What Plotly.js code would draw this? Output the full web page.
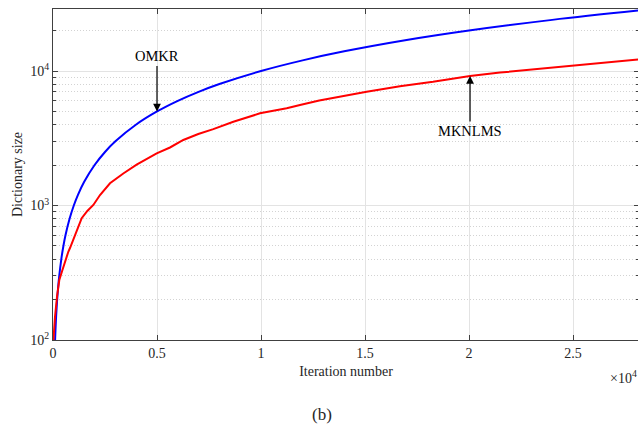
<!DOCTYPE html>
<html>
<head>
<meta charset="utf-8">
<script src="https://cdn.plot.ly/plotly-3.0.1.min.js"></script>
<style>
html,body{margin:0;padding:0;overflow:hidden;background:#fff;}
#chart{width:640px;height:428px;}
</style>
</head>
<body>
<div id="chart"></div>
<script>
// OMKR (blue): dictionary size
const omkrX = [100, 120, 150, 200, 250, 300, 400, 500, 600, 800, 1000, 1200, 1500, 2000, 2500, 3000, 4000, 5000, 6000, 7000, 8000, 10000, 12000, 14000, 17000, 20000, 24000, 28200];
const omkrY = [100, 120, 150, 200, 250, 300, 400, 500, 600, 800, 1000, 1200, 1500, 2000, 2500, 3000, 4000, 5000, 6000, 7000, 8000, 10000, 12000, 14000, 17000, 20000, 24000, 28200];
// MKNLMS (red)
const mknX = [0, 30, 96, 200, 303, 450, 600, 736, 817, 1000, 1200, 1380, 1650, 1940, 2260, 2740, 3380, 4020, 4985, 5625, 6265, 6985, 7707, 8670, 9950, 11235, 11875, 12800, 15080, 16680, 18270, 20050, 21490, 23000, 25015, 28200];
const mknY = [90, 110, 149, 215, 279, 330, 395, 453, 483, 570, 690, 804, 910, 1009, 1197, 1463, 1730, 2010, 2445, 2700, 3070, 3400, 3700, 4197, 4845, 5280, 5590, 6030, 7010, 7700, 8310, 9180, 9730, 10250, 10900, 12200];

const xTickVals = [0, 5000, 10000, 15000, 20000, 25000];
const xTickText = ['0', '0.5', '1', '1.5', '2', '2.5'];
const yTickVals = [100, 1000, 10000];
const yTickText = ['10<sup>2</sup>', '10<sup>3</sup>', '10<sup>4</sup>'];
const yMinorVals = [200, 300, 400, 500, 600, 700, 800, 900, 2000, 3000, 4000, 5000, 6000, 7000, 8000, 9000, 20000];

const serif = '"Liberation Serif", "Times New Roman", serif';
const axisCol = '#404040';
const txtCol = '#262626';

const traces = [
  {x: omkrX, y: omkrY, type: 'scatter', mode: 'lines', line: {color: '#0000ff', width: 2, shape: 'spline'}, name: 'OMKR', hoverinfo: 'skip'},
  {x: mknX, y: mknY, type: 'scatter', mode: 'lines', line: {color: '#ff0000', width: 2}, name: 'MKNLMS', hoverinfo: 'skip'}
];

const W = 640, H = 428, ML = 53, MR = 1, MT = 9, MB = 88;
const plotW = W - ML - MR, plotH = H - MT - MB;
function px2paperX(px) { return (px - ML) / plotW; }
function px2paperY(py) { return (H - MB - py) / plotH; }

const layout = {
  width: W, height: H,
  margin: {l: ML, r: MR, t: MT, b: MB},
  paper_bgcolor: '#fff', plot_bgcolor: '#fff',
  showlegend: false,
  font: {family: serif, color: txtCol, size: 14},
  xaxis: {
    range: [0, 28173],
    tickmode: 'array', tickvals: xTickVals, ticktext: xTickText,
    ticks: 'inside', ticklen: 5, tickcolor: axisCol,
    showline: true, linecolor: axisCol, linewidth: 1, mirror: 'ticks',
    showgrid: true, gridcolor: '#e3e3e3', gridwidth: 1,
    zeroline: false,
    tickfont: {family: serif, size: 14, color: txtCol},
    title: {text: 'Iteration number', font: {family: serif, size: 14, color: txtCol}, standoff: 6}
  },
  yaxis: {
    type: 'log',
    range: [2, 4.461],
    tickmode: 'array', tickvals: yTickVals, ticktext: yTickText,
    ticks: 'inside', ticklen: 5, tickcolor: axisCol,
    showline: true, linecolor: axisCol, linewidth: 1, mirror: 'ticks',
    showgrid: true, gridcolor: '#e3e3e3', gridwidth: 1,
    zeroline: false,
    minor: {tickmode: 'array', tickvals: yMinorVals, ticks: 'inside', ticklen: 3, tickcolor: axisCol,
            showgrid: true, gridcolor: '#d3d3d3', griddash: '1px,2px', gridwidth: 1},
    tickfont: {family: serif, size: 14, color: txtCol},
    title: {text: 'Dictionary size', font: {family: serif, size: 14, color: txtCol}, standoff: 4}
  },
  annotations: [
    {x: 5000, y: Math.log10(5000), xref: 'x', yref: 'y', text: 'OMKR', showarrow: true,
     ax: 0, ay: -55, arrowhead: 2, arrowsize: 1.3, arrowwidth: 1.2, arrowcolor: '#000',
     font: {family: serif, size: 14.5, color: '#000'}},
    {x: 20050, y: Math.log10(9180), xref: 'x', yref: 'y', text: 'MKNLMS', showarrow: true,
     ax: 0, ay: 55, arrowhead: 2, arrowsize: 1.3, arrowwidth: 1.2, arrowcolor: '#000',
     font: {family: serif, size: 14.5, color: '#000'}},
    {x: px2paperX(639), y: px2paperY(377), xref: 'paper', yref: 'paper', xanchor: 'right', yanchor: 'middle',
     text: '×10<sup>4</sup>', showarrow: false, font: {family: serif, size: 14, color: txtCol}},
    {x: px2paperX(322), y: px2paperY(414), xref: 'paper', yref: 'paper', xanchor: 'center', yanchor: 'middle',
     text: '(b)', showarrow: false, font: {family: serif, size: 17, color: txtCol}}
  ]
};

Plotly.newPlot('chart', traces, layout, {staticPlot: true, displayModeBar: false});
</script>
</body>
</html>
